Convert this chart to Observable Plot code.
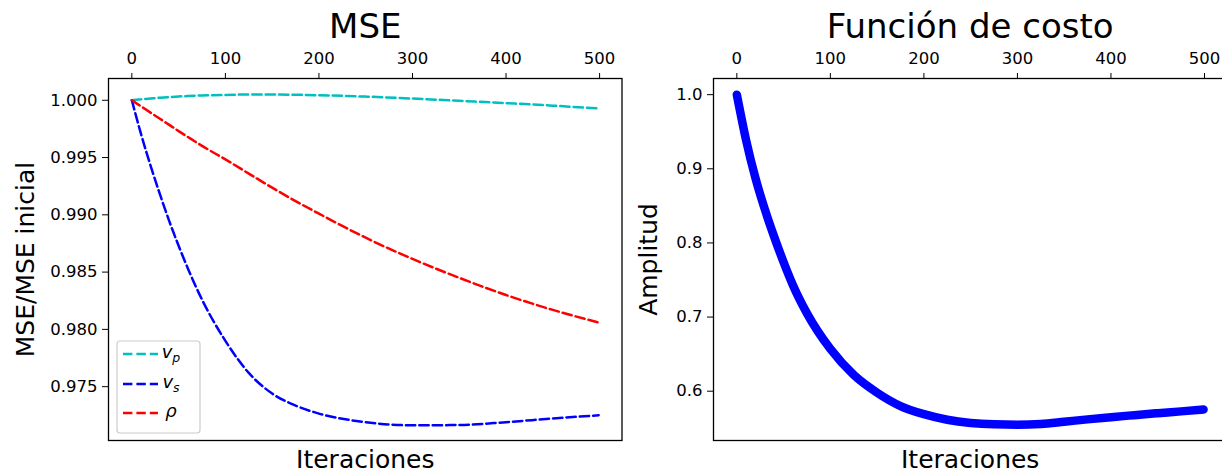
<!DOCTYPE html>
<html>
<head>
<meta charset="utf-8">
<script src="https://cdn.jsdelivr.net/npm/d3@7"></script>
<script src="https://cdn.jsdelivr.net/npm/@observablehq/plot@0.6"></script>
<style>
  html, body { margin: 0; padding: 0; background: #fff; }
  #fig { position: relative; width: 1222px; height: 473px; overflow: hidden; background: #fff; }
  #fig > div, #fig > svg { position: absolute; top: 0; }
</style>
</head>
<body>
<div id="fig"></div>
<script>
// Iteration samples and normalised MSE per parameter
const iterMSE = [0, 10, 20, 30, 40, 50, 60, 75, 100, 125, 150, 175, 200, 250, 300, 350, 400, 450, 499];
const vpMSE  = [1.00000, 1.00008, 1.00015, 1.00022, 1.00028, 1.00033, 1.00037, 1.00042, 1.00047, 1.00050, 1.00050, 1.00048, 1.00044, 1.00032, 1.00015, 0.99995, 0.99975, 0.99953, 0.99928];
const vsMSE  = [1.00000, 0.99700, 0.99430, 0.99180, 0.98945, 0.98730, 0.98530, 0.98260, 0.97900, 0.97620, 0.97440, 0.97335, 0.97265, 0.97190, 0.97163, 0.97165, 0.97190, 0.97222, 0.97250];
const rhoMSE = [1.00000, 0.99946, 0.99892, 0.99839, 0.99785, 0.99731, 0.99679, 0.99602, 0.99484, 0.99360, 0.99237, 0.99120, 0.99010, 0.98800, 0.98615, 0.98450, 0.98300, 0.98170, 0.98060];
const seriesNames = ["vp", "vs", "rho"];
const seriesColors = ["#00bfbf", "#0000ff", "#ff0000"];

// Cost function amplitude per iteration
const iterCost = [0, 10, 20, 30, 40, 50, 60, 75, 100, 125, 150, 175, 200, 225, 250, 275, 300, 325, 350, 375, 400, 425, 450, 475, 499];
const costVals = [1.000, 0.938, 0.887, 0.845, 0.808, 0.774, 0.743, 0.705, 0.657, 0.622, 0.598, 0.580, 0.569, 0.5615, 0.5572, 0.5553, 0.5548, 0.5558, 0.5588, 0.5620, 0.5650, 0.5677, 0.5703, 0.5728, 0.5753];

const xTicks = [0, 100, 200, 300, 400, 500];
const mseTicks = [0.975, 0.980, 0.985, 0.990, 0.995, 1.000];
const costTicks = [0.6, 0.7, 0.8, 0.9, 1.0];

const FONT = "DejaVu Sans, Liberation Sans, sans-serif";
const DASH = "9.4,4";

const mseRows = [];
[vpMSE, vsMSE, rhoMSE].forEach((vals, k) => {
  vals.forEach((v, i) => mseRows.push({series: seriesNames[k], iter: iterMSE[i], value: v}));
});
const costRows = iterCost.map((it, i) => ({iter: it, value: costVals[i]}));

const fig = document.getElementById("fig");

// Left panel: MSE ratio
const left = Plot.plot({
  width: 640, height: 473,
  marginLeft: 108, marginRight: 18.5, marginTop: 78, marginBottom: 33,
  style: {fontFamily: FONT, fontSize: "16.5px", color: "#000", background: "transparent", overflow: "visible"},
  x: {domain: [-24.95, 523.95], axis: "top", ticks: xTicks, tickSize: 6, tickPadding: 9, label: null},
  y: {domain: [0.9703, 1.0019], ticks: mseTicks, tickFormat: d3.format(".3f"), tickSize: 6, tickPadding: 5, label: null},
  color: {domain: seriesNames, range: seriesColors},
  marks: [
    Plot.line(mseRows, {x: "iter", y: "value", z: "series", stroke: "series", strokeWidth: 2.5,
      strokeDasharray: DASH, curve: "monotone-x"}),
    Plot.frame({stroke: "#000", strokeWidth: 1.3}),
    Plot.text(["MSE"], {frameAnchor: "top", dy: -41, lineAnchor: "bottom", fontSize: 34}),
    Plot.text(["Iteraciones"], {frameAnchor: "bottom", dy: 27, lineAnchor: "bottom", fontSize: 25}),
    Plot.text(["MSE/MSE inicial"], {frameAnchor: "left", dx: -75, rotate: -90, textAnchor: "middle",
      lineAnchor: "bottom", fontSize: 25})
  ]
});
left.style.left = "0px";
fig.appendChild(left);

// Legend inside the lower-left corner of the MSE panel
(function addLegend(svg) {
  const g = d3.select(svg).append("g").attr("font-family", FONT);
  g.append("rect").attr("x", 117).attr("y", 341).attr("width", 83).attr("height", 92)
    .attr("rx", 3).attr("fill", "#fff").attr("fill-opacity", 0.8)
    .attr("stroke", "#cccccc").attr("stroke-width", 1.2);
  const rowsY = [354, 384, 413];
  const labels = [["v", "p"], ["v", "s"], ["ρ", null]];
  rowsY.forEach((y, i) => {
    g.append("line").attr("x1", 123).attr("x2", 158).attr("y1", y).attr("y2", y)
      .attr("stroke", seriesColors[i]).attr("stroke-width", 2.5).attr("stroke-dasharray", DASH);
    const t = g.append("text").attr("x", 171).attr("y", y + 4)
      .attr("font-size", 18).attr("font-style", "italic").attr("fill", "#000");
    t.append("tspan").text(labels[i][0]);
    if (labels[i][1]) t.append("tspan").attr("font-size", 12.5).attr("dy", 4).text(labels[i][1]);
  });
})(left);

// Right panel: cost function
const right = Plot.plot({
  width: 640, height: 473,
  marginLeft: 101, marginRight: 25.6, marginTop: 78, marginBottom: 33,
  style: {fontFamily: FONT, fontSize: "16.5px", color: "#000", background: "transparent", overflow: "visible"},
  x: {domain: [-24.95, 523.95], axis: "top", ticks: xTicks, tickSize: 6, tickPadding: 9, label: null},
  y: {domain: [0.5335, 1.0218], ticks: costTicks, tickFormat: d3.format(".1f"), tickSize: 6, tickPadding: 5, label: null},
  marks: [
    Plot.line(costRows, {x: "iter", y: "value", stroke: "#0000ff", strokeWidth: 8.5,
      strokeLinecap: "round", strokeLinejoin: "round", curve: "monotone-x"}),
    Plot.frame({stroke: "#000", strokeWidth: 1.3}),
    Plot.text(["Función de costo"], {frameAnchor: "top", dy: -41, lineAnchor: "bottom", fontSize: 34}),
    Plot.text(["Iteraciones"], {frameAnchor: "bottom", dy: 27, lineAnchor: "bottom", fontSize: 25}),
    Plot.text(["Amplitud"], {frameAnchor: "left", dx: -57, rotate: -90, textAnchor: "middle",
      lineAnchor: "bottom", fontSize: 25})
  ]
});
right.style.left = "612px";
fig.appendChild(right);
</script>
</body>
</html>
